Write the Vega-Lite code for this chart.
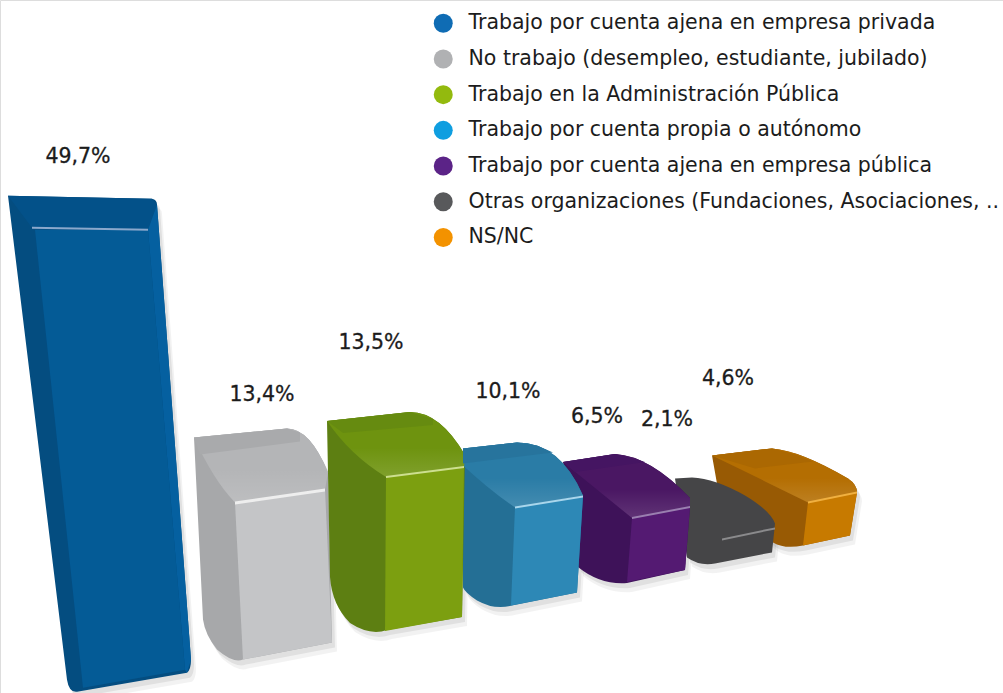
{
"$schema":"https://vega.github.io/schema/vega-lite/v6.json",
"width":1003,"height":693,"autosize":"none","padding":0,"background":"#ffffff",
"data":{"values":[
{"situacion":"NS/NC","valor":4.6,"orden":7,"etiqueta":"4,6%"},
{"situacion":"Otras organizaciones (Fundaciones, Asociaciones, ..","valor":2.1,"orden":6,"etiqueta":"2,1%"},
{"situacion":"Trabajo por cuenta ajena en empresa pública","valor":6.5,"orden":5,"etiqueta":"6,5%"},
{"situacion":"Trabajo por cuenta propia o autónomo","valor":10.1,"orden":4,"etiqueta":"10,1%"},
{"situacion":"No trabajo (desempleo, estudiante, jubilado)","valor":13.4,"orden":2,"etiqueta":"13,4%"},
{"situacion":"Trabajo por cuenta ajena en empresa privada","valor":49.7,"orden":1,"etiqueta":"49,7%"},
{"situacion":"Trabajo en la Administración Pública","valor":13.5,"orden":3,"etiqueta":"13,5%"}
]},
"encoding":{
"x":{"field":"orden","type":"quantitative","axis":null,"scale":{"domain":[1,7],"range":[100,760],"zero":false,"nice":false}},
"y":{"field":"valor","type":"quantitative","axis":null,"scale":{"domain":[0,50],"range":[500,200],"zero":false,"nice":false}}
},
"layer":[
{"mark":{"type":"point","filled":true,"opacity":1,"size":4,"shape":"M0,0Z"},
"encoding":{"color":{"field":"situacion","type":"nominal","scale":{"domain":["Trabajo por cuenta ajena en empresa privada","No trabajo (desempleo, estudiante, jubilado)","Trabajo en la Administración Pública","Trabajo por cuenta propia o autónomo","Trabajo por cuenta ajena en empresa pública","Otras organizaciones (Fundaciones, Asociaciones, ..","NS/NC"],"range":["#0f6cb4","#b0b1b3","#93ba0e","#0f9ee0","#5b2387","#58595b","#f39200"]},
"legend":{"title":null,"orient":"none","legendX":433,"legendY":13,"symbolType":"circle","symbolSize":360,"symbolStrokeWidth":0,"labelFont":"DejaVu Sans","labelFontSize":20.5,"labelColor":"#1c1c1c","labelLimit":640,"labelOffset":15,"rowPadding":14.7}}}},
{"mark":{"type":"point","filled":true,"opacity":0.05,"size":4,"xOffset":5,"yOffset":9,"fill":"#000000","strokeWidth":0},
"encoding":{"shape":{"field":"orden","type":"nominal","legend":null,"scale":{"domain":[1,2,3,4,5,6,7],"range":[
"M-92,-6 L52,-3 Q57,-2 57,3 L91,458 Q91,468 87,471 L-23,490 Q-31,491 -33,478 Z",
"M-16,18 L77,9 Q100,9 118,53 L122,223 L33,240 Q23,244 7,230 Q-5,215 -7,200 Z",
"M7,2 L90,-7 Q120,-7 145,36 L142,198 L67,211 Q50,217 30,204 Q12,186 10,158 Z",
"M33,9 L87,3 Q130,3 153,56 L147,153 L82,166 Q65,171 47,161 Q35,153 33,148 Z",
"M23,1 L75,-7 Q110,-5 150,37 L150,46 L145,109 L87,122 Q60,124 38,106 Z",
"M25,-9 L42,-10 Q65,-9 95,8 Q120,23 125,36 L122,65 L65,76 Q50,79 37,70 Z",
"M-48,-17 L12,-24 Q40,-22 88,6 Q97,12 97,20 L90,63 L43,73 Q25,77 13,70 L-40,28 Z"]}}}},
{"mark":{"type":"point","filled":true,"opacity":0.07,"size":4,"xOffset":3,"yOffset":5,"fill":"#000000","strokeWidth":0},
"encoding":{"shape":{"field":"orden","type":"nominal","legend":null,"scale":{"domain":[1,2,3,4,5,6,7],"range":[
"M-92,-6 L52,-3 Q57,-2 57,3 L91,458 Q91,468 87,471 L-23,490 Q-31,491 -33,478 Z",
"M-16,18 L77,9 Q100,9 118,53 L122,223 L33,240 Q23,244 7,230 Q-5,215 -7,200 Z",
"M7,2 L90,-7 Q120,-7 145,36 L142,198 L67,211 Q50,217 30,204 Q12,186 10,158 Z",
"M33,9 L87,3 Q130,3 153,56 L147,153 L82,166 Q65,171 47,161 Q35,153 33,148 Z",
"M23,1 L75,-7 Q110,-5 150,37 L150,46 L145,109 L87,122 Q60,124 38,106 Z",
"M25,-9 L42,-10 Q65,-9 95,8 Q120,23 125,36 L122,65 L65,76 Q50,79 37,70 Z",
"M-48,-17 L12,-24 Q40,-22 88,6 Q97,12 97,20 L90,63 L43,73 Q25,77 13,70 L-40,28 Z"]}}}},
{"mark":{"type":"point","filled":true,"opacity":1,"size":4,"strokeWidth":0},
"encoding":{"color":{"field":"orden","type":"nominal","legend":null,"scale":{"domain":[1,2,3,4,5,6,7],"range":["#044d80","#a7a8aa","#5d7f12","#246f95","#3e1259","#454547","#985a04"]}},
"shape":{"field":"orden","type":"nominal","legend":null,"scale":{"domain":[1,2,3,4,5,6,7],"range":[
"M-92,-6 L52,-3 Q57,-2 57,3 L91,458 Q91,468 87,471 L-23,490 Q-31,491 -33,478 Z",
"M-16,18 L77,9 Q100,9 118,53 L122,223 L33,240 Q23,244 7,230 Q-5,215 -7,200 Z",
"M7,2 L90,-7 Q120,-7 145,36 L142,198 L67,211 Q50,217 30,204 Q12,186 10,158 Z",
"M33,9 L87,3 Q130,3 153,56 L147,153 L82,166 Q65,171 47,161 Q35,153 33,148 Z",
"M23,1 L75,-7 Q110,-5 150,37 L150,46 L145,109 L87,122 Q60,124 38,106 Z",
"M25,-9 L42,-10 Q65,-9 95,8 Q120,23 125,36 L122,65 L65,76 Q50,79 37,70 Z",
"M-48,-17 L12,-24 Q40,-22 88,6 Q97,12 97,20 L90,63 L43,73 Q25,77 13,70 L-40,28 Z"]}}}},
{"mark":{"type":"point","filled":true,"opacity":1,"size":4,"strokeWidth":0},
"encoding":{"color":{"field":"orden","type":"nominal","legend":null,"scale":{"domain":[1,2,3,4,5,6,7],"range":["#035189","#b4b5b7","#6e930f","#2a7ca6","#4a1763","#454547","#b46e02"]}},
"shape":{"field":"orden","type":"nominal","legend":null,"scale":{"domain":[1,2,3,4,5,6,7],"range":[
"M-92,-6 L52,-3 L57,3 L48,28 L-68,26 Z",
"M-16,18 L77,9 Q100,9 118,53 L115,70 L25,83 Q3,60 -16,18 Z",
"M7,2 L90,-7 Q120,-7 145,36 L144,48 L66,58 Q30,36 7,2 Z",
"M33,9 L87,3 Q130,3 153,56 L85,68 Q60,51 33,26 Z",
"M23,1 L75,-7 Q110,-5 150,37 L150,46 L92,57 Z",
"M0,0Z",
"M-48,-17 L12,-24 Q40,-22 88,6 Q97,12 97,20 L48,30 Z"]}}}},
{"mark":{"type":"point","filled":true,"opacity":1,"size":4,"strokeWidth":0,"fill":{"gradient":"linear","x1":0,"y1":0,"x2":0,"y2":1,"stops":[{"offset":0,"color":"rgba(255,255,255,0)"},{"offset":0.55,"color":"rgba(255,255,255,0)"},{"offset":1,"color":"rgba(255,255,255,0.12)"}]}},
"encoding":{"shape":{"field":"orden","type":"nominal","legend":null,"scale":{"domain":[1,2,3,4,5,6,7],"range":[
"M0,0Z",
"M-16,18 L77,9 Q100,9 118,53 L115,70 L25,83 Q3,60 -16,18 Z",
"M7,2 L90,-7 Q120,-7 145,36 L144,48 L66,58 Q30,36 7,2 Z",
"M33,9 L87,3 Q130,3 153,56 L85,68 Q60,51 33,26 Z",
"M23,1 L75,-7 Q110,-5 150,37 L150,46 L92,57 Z",
"M0,0Z",
"M-48,-17 L12,-24 Q40,-22 88,6 Q97,12 97,20 L48,30 Z"]}}}},
{"mark":{"type":"point","filled":true,"opacity":1,"size":4,"strokeWidth":0},
"encoding":{"color":{"field":"orden","type":"nominal","legend":null,"scale":{"domain":[1,2,3,4,5,6,7],"range":["#0560a0","#a9aaac","#668b10","#27749d","#451562","#454547","#ab6802"]}},
"shape":{"field":"orden","type":"nominal","legend":null,"scale":{"domain":[1,2,3,4,5,6,7],"range":[
"M48,28 L57,3 L91,458 L87,471 L85,468 Z",
"M-16,18 L77,9 L90,13 L90,22 L-10,35 Z",
"M7,2 L90,-7 L113,0 L113,6 L23,14 Z",
"M33,9 L87,3 L107,6 L123,13 L33,24 Z",
"M23,1 L75,-7 L105,1 L35,11 Z",
"M0,0Z",
"M-48,-17 L12,-24 L35,-18 L53,-11 L-5,-4 Z"]}}}},
{"mark":{"type":"point","filled":true,"opacity":1,"size":4,"strokeWidth":0},
"encoding":{"color":{"field":"orden","type":"nominal","legend":null,"scale":{"domain":[1,2,3,4,5,6,7],"range":["#045b96","#c4c5c7","#7c9f10","#2d88b6","#541a72","#454547","#c77a00"]}},
"shape":{"field":"orden","type":"nominal","legend":null,"scale":{"domain":[1,2,3,4,5,6,7],"range":[
"M-65,28 L48,28 L85,468 L-17,486 Z",
"M25,83 L115,70 L122,223 L33,240 Z",
"M66,58 L144,48 L142,198 L65,212 Z",
"M85,68 L153,57 L147,153 L81,166 Z",
"M92,57 L150,46 L145,109 L87,121 Z",
"M0,0Z",
"M48,30 L97,20 L90,63 L43,73 Z"]}}}},
{"mark":{"type":"point","filled":true,"opacity":1,"size":4,"strokeWidth":0},
"encoding":{"color":{"field":"orden","type":"nominal","legend":null,"scale":{"domain":[1,2,3,4,5,6,7],"range":["#8ba8cc","#eeeeee","#cddf90","#a9d6ec","#9a7fb0","#8a8a8c","#f0b040"]}},
"shape":{"field":"orden","type":"nominal","legend":null,"scale":{"domain":[1,2,3,4,5,6,7],"range":[
"M-68,25 L48,27 L48,29 L-68,27 Z",
"M25,82 L115,69 L115,72 L25,85 Z",
"M66,57 L144,47 L144,49 L66,59 Z",
"M85,67 L153,56 L153,58 L85,69 Z",
"M92,56 L150,45 L150,47 L92,58 Z",
"M72,51 L125,40 L125,42 L72,53 Z",
"M48,29 L97,19 L97,21 L48,31 Z"]}}}},
{"mark":{"type":"text","font":"DejaVu Sans","fontSize":20.5,"color":"#1c1c1c","stroke":"#1c1c1c","strokeWidth":0.3,"baseline":"middle","align":"center"},
"encoding":{"text":{"field":"etiqueta","type":"nominal"},
"x":{"field":"orden","type":"quantitative","axis":null,"scale":{"domain":[1,2,3,4,5,6,7],"range":[78,262,371,508,597,667,728],"zero":false,"nice":false}},
"y":{"field":"valor","type":"quantitative","axis":null,"scale":{"domain":[2.1,4.6,6.5,10.1,13.4,13.5,49.7],"range":[420,379,417,392,395,343,157],"zero":false,"nice":false}}}}
],
"resolve":{"scale":{"x":"independent","y":"independent","color":"independent","shape":"independent"}}
}
